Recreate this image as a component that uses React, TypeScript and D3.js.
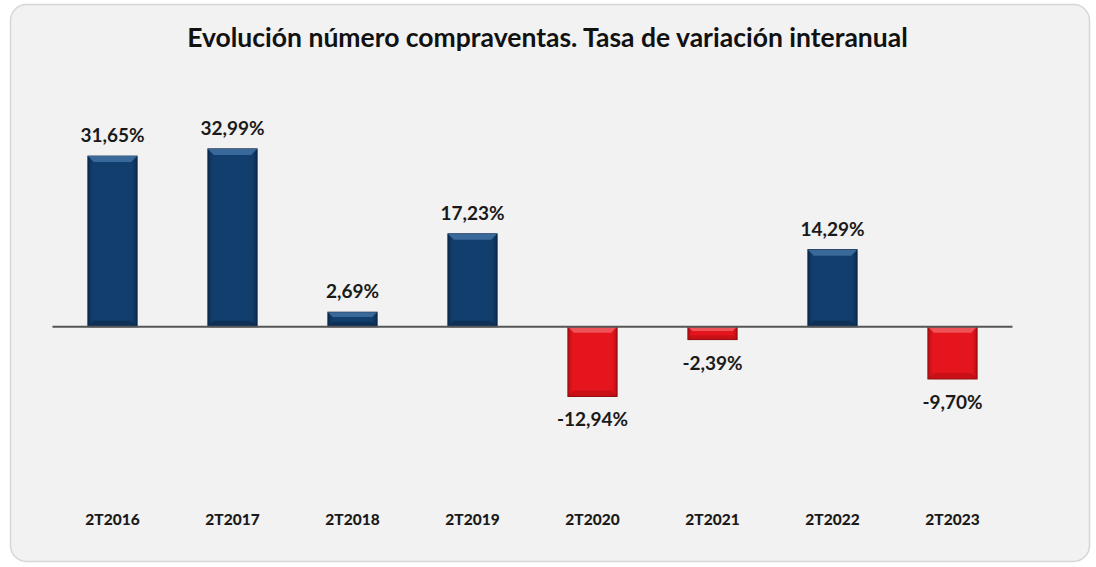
import React from "react";
import * as d3 from "d3";

const categories = ["2T2016", "2T2017", "2T2018", "2T2019", "2T2020", "2T2021", "2T2022", "2T2023"];
const values = [31.65, 32.99, 2.69, 17.23, -12.94, -2.39, 14.29, -9.7];
const title = "Evolución número compraventas. Tasa de variación interanual";

const W = 1096;
const H = 567;

export default function App() {
  const x = d3.scaleBand<string>().domain(categories).range([52.5, 1012.5]).paddingInner(0.59).paddingOuter(0.295);
  const y = d3.scaleLinear().domain([-20, 40]).range([434.5, 111.1]);
  const fmt = (v: number) => v.toFixed(2).replace(".", ",") + "%";
  const y0 = y(0);
  const bw = x.bandwidth();
  const font = "Lato, 'Open Sans', sans-serif";

  return (
    <svg width={W} height={H} style={{ position: "absolute", left: 0, top: 0, display: "block", background: "#ffffff" }}>
      <defs>
        <linearGradient id="navy" x1="0" x2="1" y1="0" y2="0">
          <stop offset="0" stopColor="#0a2c52" />
          <stop offset="0.1" stopColor="#123e6d" />
          <stop offset="0.9" stopColor="#123e6d" />
          <stop offset="1" stopColor="#0a2c52" />
        </linearGradient>
        <linearGradient id="red" x1="0" x2="1" y1="0" y2="0">
          <stop offset="0" stopColor="#b80d14" />
          <stop offset="0.1" stopColor="#e5151d" />
          <stop offset="0.9" stopColor="#e5151d" />
          <stop offset="1" stopColor="#b80d14" />
        </linearGradient>
      </defs>
      <rect x={10.5} y={4.5} width={1079} height={557} rx={16} fill="#f2f2f2" stroke="#d6d6d6" strokeWidth={1.5} />
      <text x={547.5} y={47} textAnchor="middle" fontFamily={font} fontWeight={700} fontSize={26.5} fill="#111">
        {title}
      </text>
      {categories.map((c, i) => {
        const v = values[i];
        const x0 = x(c)!;
        const top = Math.min(y(v), y0);
        const h = Math.abs(y(v) - y0);
        const pos = v >= 0;
        const bev = Math.min(6, h / 3);
        return (
          <g key={c}>
            <rect x={x0} y={top} width={bw} height={h} fill={pos ? "url(#navy)" : "url(#red)"} stroke={pos ? "#0a2444" : "#8c0a0f"} strokeWidth={1} />
            <path
              d={`M${x0},${top} L${x0 + bw},${top} L${x0 + bw - bev},${top + bev} L${x0 + bev},${top + bev} Z`}
              fill={pos ? "#3e6e9f" : "#f05a5f"}
              opacity={0.9}
            />
            <path
              d={`M${x0},${top + h} L${x0 + bw},${top + h} L${x0 + bw - bev},${top + h - bev} L${x0 + bev},${top + h - bev} Z`}
              fill={pos ? "#071f3b" : "#a80c12"}
              opacity={0.45}
            />
            <text
              x={x0 + bw / 2}
              y={pos ? y(v) - 14 : y(v) + 30}
              textAnchor="middle"
              fontFamily={font}
              fontWeight={700}
              fontSize={19}
              fill="#1a1a1a"
            >
              {fmt(v)}
            </text>
            <text x={x0 + bw / 2} y={525} textAnchor="middle" fontFamily={font} fontWeight={900} fontSize={15.5} fill="#1a1a1a">
              {c}
            </text>
          </g>
        );
      })}
      <line x1={52.5} x2={1012.5} y1={y0} y2={y0} stroke="#555" strokeWidth={2} />
    </svg>
  );
}
